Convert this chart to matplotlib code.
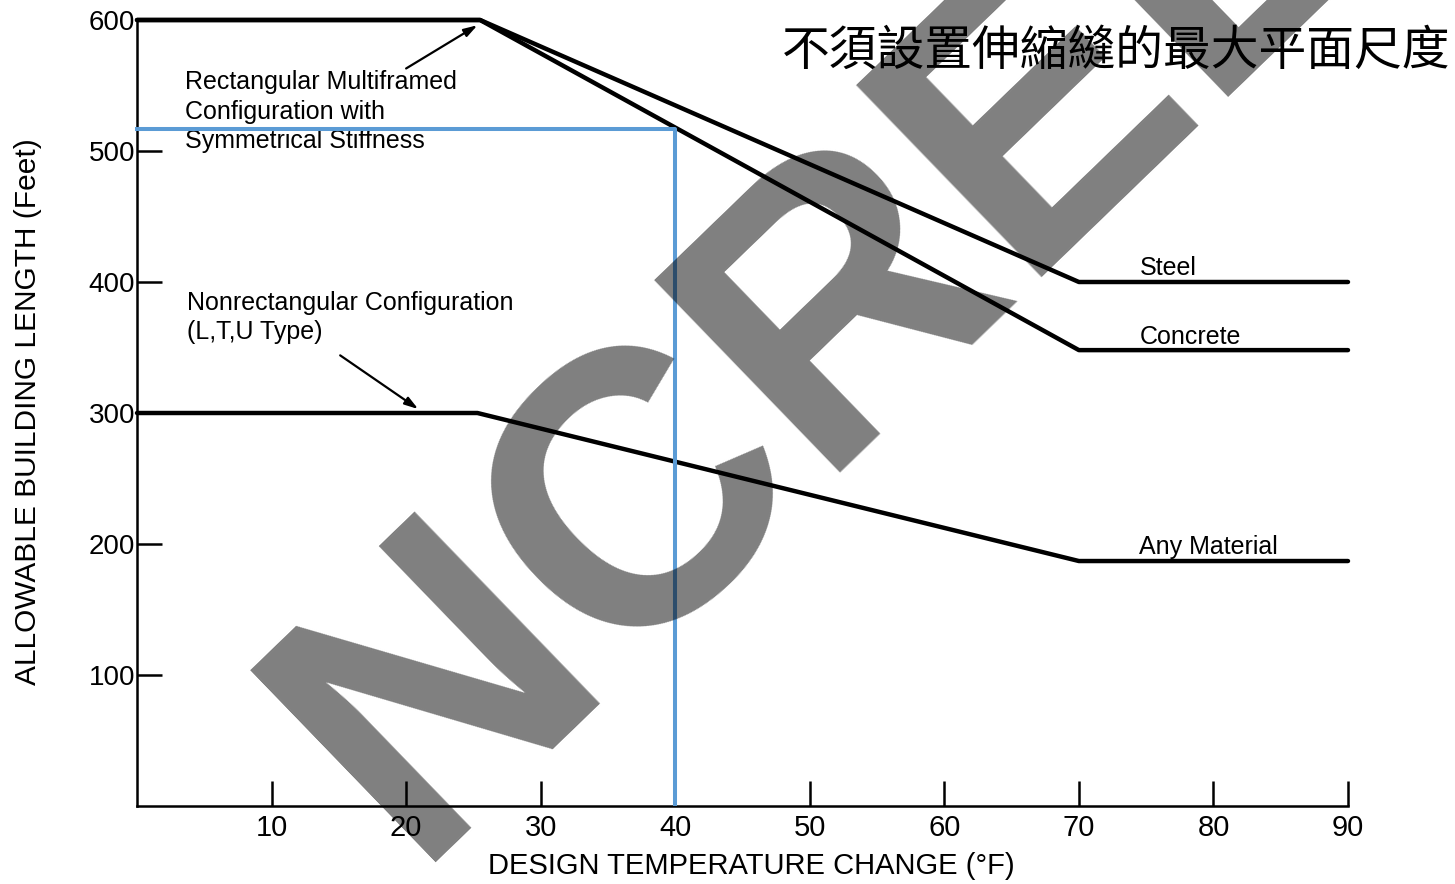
import matplotlib
matplotlib.use("Agg")
import matplotlib.pyplot as plt

# ---- data ----
steel_x = [0, 25.5, 70, 90]
steel_y = [600, 600, 400, 400]
concrete_x = [0, 25.5, 70, 90]
concrete_y = [600, 600, 348, 348]
anymat_x = [0, 25.3, 70, 90]
anymat_y = [300, 300, 187, 187]
guide_x = [0, 40, 40]
guide_y = [517, 517, 1.5]
xticks = [10, 20, 30, 40, 50, 60, 70, 80, 90]
yticks = [100, 200, 300, 400, 500, 600]

plt.rcParams['font.family'] = ['Liberation Sans', 'DejaVu Sans']

fig = plt.figure(figsize=(14.55, 8.84), dpi=100)
ax = fig.add_axes([137/1455, 1-806/884, (1348-137)/1455, (806-20)/884])
ax.set_xlim(0, 90)
ax.set_ylim(0, 600)

lw = 3.2
for xs, ys in [(steel_x, steel_y), (concrete_x, concrete_y), (anymat_x, anymat_y)]:
    ax.plot(xs, ys, color='black', lw=lw, clip_on=False, solid_capstyle='round', zorder=3)

ax.plot(guide_x, guide_y, color='#5B9BD5', lw=2.9, clip_on=False, zorder=4)

for s in ['top', 'right']:
    ax.spines[s].set_visible(False)
for s in ['left', 'bottom']:
    ax.spines[s].set_linewidth(1.8)

ax.set_xticks(xticks)
ax.set_yticks(yticks)
ax.tick_params(direction='in', length=18, width=1.8, labelsize=20, pad=1.5)
ax.tick_params(axis='x', labelsize=21, pad=6)

txt_kw = dict(fontsize=18, color='black')
ax.text(74.5, 411, 'Steel', va='center', ha='left', **txt_kw)
ax.text(74.5, 358, 'Concrete', va='center', ha='left', **txt_kw)
ax.text(74.5, 198, 'Any Material', va='center', ha='left', **txt_kw)

ax.text(3.6, 530, 'Rectangular Multiframed\nConfiguration with\nSymmetrical Stiffness',
        va='center', ha='left', linespacing=1.3, **txt_kw)
ax.text(3.7, 373, 'Nonrectangular Configuration\n(L,T,U Type)',
        va='center', ha='left', linespacing=1.3, **txt_kw)

arrow_kw = dict(arrowstyle='-|>,head_length=0.8,head_width=0.25', color='black', lw=1.6,
                shrinkA=0, shrinkB=0)
ax.annotate('', xy=(25.3, 596), xytext=(20.0, 563), arrowprops=arrow_kw)
ax.annotate('', xy=(20.9, 303), xytext=(15.1, 344), arrowprops=arrow_kw)

fig.text(28/1455, 1-412/884, 'ALLOWABLE BUILDING LENGTH (Feet)', rotation=90,
         ha='center', va='center', fontsize=21.5)
fig.text(751/1455, 1-866/884, 'DESIGN TEMPERATURE CHANGE (°F)', ha='center', va='center',
         fontsize=21)

fig.text(1116/1455, 1-51/884, '不須設置伸縮縫的最大平面尺度', ha='center', va='center',
         fontsize=34.4, fontweight='light', family=['Noto Sans CJK TC', 'DejaVu Sans'], zorder=5)

fig.text(900/1455, 1-389/884, 'NCREE', rotation=44, rotation_mode='anchor',
         ha='center', va='baseline', fontsize=280, fontweight='bold',
         color='black', alpha=0.5, zorder=20)

fig.savefig('out.png', dpi=100)
